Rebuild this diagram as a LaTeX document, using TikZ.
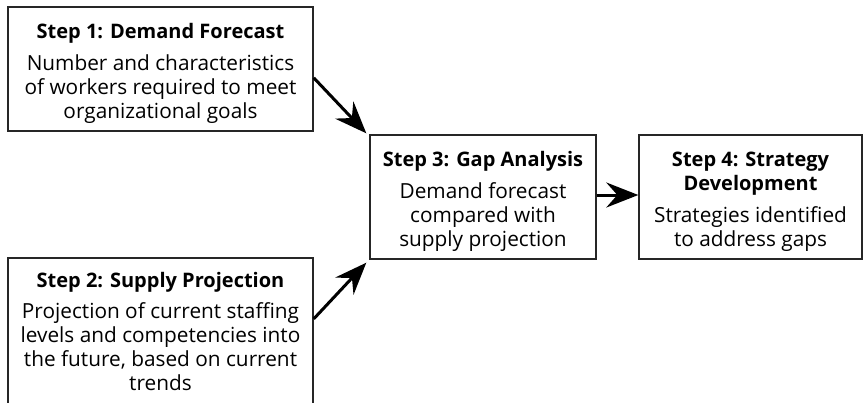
\documentclass[tikz,border=0pt]{standalone}
\usepackage{fontspec}
\setmainfont{Open Sans}
\usetikzlibrary{arrows.meta,calc}
\newcommand{\steptitle}[1]{{\fontsize{20}{24}\selectfont\bfseries #1}}
\newcommand{\toppad}{\rule{0pt}{23pt}}
\begin{document}
\begin{tikzpicture}[x=1pt,y=-1pt,
  stepbox/.style={draw=black!85, line width=1.4pt, rectangle, align=center,
    inner sep=0pt, font=\fontsize{20.8}{24}\selectfont},
  flow/.style={line width=3pt, -{Stealth[length=32pt,width=25pt,inset=11pt]}}]
\clip (0,0) rectangle (864,402);
\node[stepbox, minimum width=305pt, minimum height=124pt] (b1) at (160.5,69)
  {\toppad\steptitle{Step 1: Demand Forecast}\\[8pt]Number and characteristics\\of workers required to meet\\organizational goals};
\node[stepbox, minimum width=305pt, minimum height=146pt] (b2) at (160.5,331)
  {\steptitle{Step 2: Supply Projection}\\[7pt]Projection of current staffing\\levels and competencies into\\the future, based on current\\trends};
\node[stepbox, minimum width=226pt, minimum height=124pt] (b3) at (483,197)
  {\toppad\steptitle{Step 3: Gap Analysis}\\[8pt]Demand forecast\\compared with\\supply projection};
\node[stepbox, minimum width=223pt, minimum height=124pt] (b4) at (750.5,197)
  {\toppad\steptitle{Step 4: Strategy}\\\steptitle{Development}\\[8pt]Strategies identified\\to address gaps};
\draw[flow] ($(b1.north east)!0.57!(b1.south east)$) -- ([shift={(-3,-1)}]b3.north west);
\draw[flow] ($(b2.north east)!0.418!(b2.south east)$) -- ([shift={(-3,3)}]b3.south west);
\draw[flow] ([yshift=2pt]b3.east) -- ([yshift=2pt]b4.west);
\end{tikzpicture}
\end{document}
